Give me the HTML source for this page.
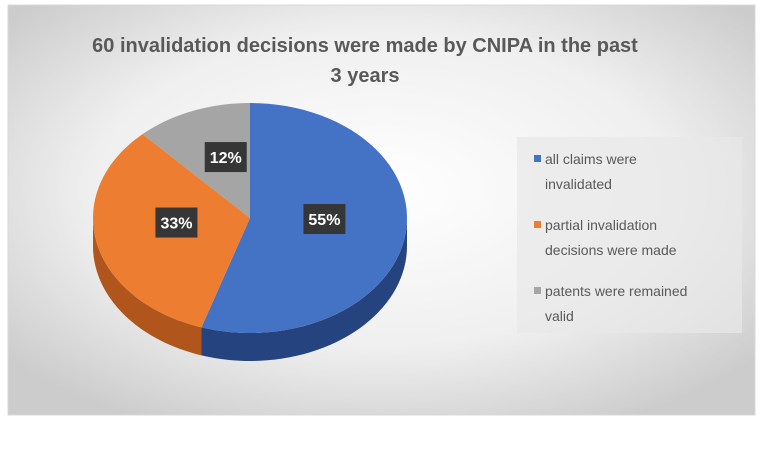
<!DOCTYPE html>
<html><head><meta charset="utf-8"><style>
html,body{margin:0;padding:0;background:#fff;}
body{width:763px;height:445px;overflow:hidden;font-family:"Liberation Sans",sans-serif;}
</style></head><body>
<svg width="763" height="445" viewBox="0 0 763 445">
<defs>
<radialGradient id="bg" cx="50%" cy="45%" r="65%">
<stop offset="0" stop-color="#ffffff"/><stop offset="0.6" stop-color="#efefef"/><stop offset="1" stop-color="#cccccc"/>
</radialGradient>
</defs>
<rect x="8" y="5" width="747" height="410" fill="url(#bg)" stroke="#d9d9d9"/>
<text x="365" y="52" text-anchor="middle" font-size="20" font-weight="bold" fill="#595959">60 invalidation decisions were made by CNIPA in the past</text>
<text x="365" y="82" text-anchor="middle" font-size="20" font-weight="bold" fill="#595959">3 years</text>
<rect x="517" y="137" width="225" height="196" fill="#e8e8e8" opacity="0.7"/>
<g id="pie"></g>
<g id="legend"></g>
</svg>
<script>
const categories=["all claims were invalidated","partial invalidation decisions were made","patents were remained valid"];
const values=[55,33,12];
const labels=["55%","33%","12%"];
const colors=["#4472c4","#ed7d31","#a5a5a5"];
const sideColors=["#25437e","#b0561c","#6e6e6e"];
const legendLines=[["all claims were","invalidated"],["partial invalidation","decisions were made"],["patents were remained","valid"]];
const NS="http://www.w3.org/2000/svg";
const cx=250,cy=218,rx=157,ry=115,depth=28;
const pie=document.getElementById('pie');
function pt(t,dy){return [cx+rx*Math.sin(t),cy-ry*Math.cos(t)+(dy||0)];}
const total=values.reduce((a,b)=>a+b,0);
let acc=0;const ang=[];
values.forEach(v=>{const a0=acc/total*2*Math.PI;acc+=v;ang.push([a0,acc/total*2*Math.PI]);});
ang.forEach((a,i)=>{
  const s=Math.max(a[0],Math.PI/2),e=Math.min(a[1],3*Math.PI/2);
  if(e<=s)return;
  let d="",n=40;
  for(let k=0;k<=n;k++){const p=pt(s+(e-s)*k/n);d+=(k?"L":"M")+p[0]+","+p[1];}
  for(let k=n;k>=0;k--){const p=pt(s+(e-s)*k/n,depth);d+="L"+p[0]+","+p[1];}
  const el=document.createElementNS(NS,'path');el.setAttribute('d',d+"Z");el.setAttribute('fill',sideColors[i]);
  
  
  pie.appendChild(el);
});
ang.forEach((a,i)=>{
  let d="M"+cx+","+cy,n=60;
  for(let k=0;k<=n;k++){const p=pt(a[0]+(a[1]-a[0])*k/n);d+="L"+p[0]+","+p[1];}
  const el=document.createElementNS(NS,'path');el.setAttribute('d',d+"Z");el.setAttribute('fill',colors[i]);
  
  
  pie.appendChild(el);
});
ang.forEach((a,i)=>{
  const m=(a[0]+a[1])/2;const small=values[i]<20;
  const fx=small?0.42:0.48,fy=small?0.57:0.5,dy=small?0:-8;
  const x=cx+rx*fx*Math.sin(m),y=cy-ry*fy*Math.cos(m)+dy;
  const r=document.createElementNS(NS,'rect');
  r.setAttribute('x',x-21);r.setAttribute('y',y-15);r.setAttribute('width',42);r.setAttribute('height',30);r.setAttribute('fill','#363636');
  
  
  pie.appendChild(r);
  const t=document.createElementNS(NS,'text');t.setAttribute('x',x);t.setAttribute('y',y+6);t.setAttribute('text-anchor','middle');
  t.setAttribute('font-size','16');t.setAttribute('font-weight','bold');t.setAttribute('fill','#fff');t.textContent=labels[i];
  
  
  pie.appendChild(t);
});
const lg=document.getElementById('legend');
legendLines.forEach((lines,i)=>{
  const y0=164+i*66;
  const r=document.createElementNS(NS,'rect');r.setAttribute('x',534);r.setAttribute('y',y0-9);r.setAttribute('width',7);r.setAttribute('height',7);r.setAttribute('fill',colors[i]);
  
  
  lg.appendChild(r);
  lines.forEach((ln,j)=>{
    const t=document.createElementNS(NS,'text');t.setAttribute('x',545);t.setAttribute('y',y0+j*25);t.setAttribute('font-size','14');t.setAttribute('fill','#595959');t.textContent=ln;
    
    
    lg.appendChild(t);
  });
});
</script>
</body></html>
